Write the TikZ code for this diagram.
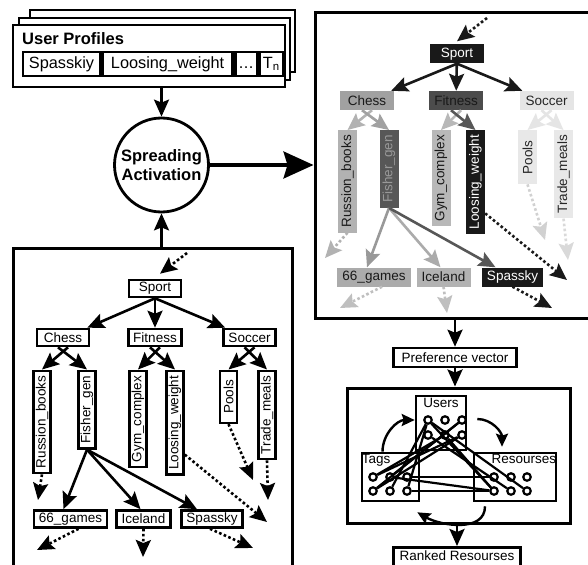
\documentclass[tikz,border=0pt]{standalone}
\usepackage{fontspec}
\setmainfont{Liberation Sans}
\usetikzlibrary{positioning}
\usetikzlibrary{arrows.meta}
\usetikzlibrary{calc}
\newcommand{\nodefont}{\fontsize{13.5}{15}\selectfont}
\tikzset{>={Stealth[length=17pt,width=15pt,inset=3pt]}}
\tikzset{ed/.style={->,line width=2.6pt}}
\tikzset{dt/.style={->,line width=2.6pt,dash pattern=on 2.6pt off 2.4pt}}
\tikzset{ca/.style={line width=2.4pt,-{Stealth[length=13pt,width=12pt,inset=2pt]}}}
\tikzset{lt/.style={draw,line width=2.6pt,fill=white,font=\nodefont,inner xsep=5pt,inner ysep=1pt,minimum width=52pt,minimum height=17pt}}
\tikzset{rt/.style={font=\nodefont,inner xsep=5pt,inner ysep=1pt,minimum width=54pt,minimum height=19pt}}
\tikzset{vt/.style={rotate=90,anchor=east}}
\tikzset{box/.style={draw,line width=3pt,fill=white}}
\tikzset{gbx/.style={draw,line width=2.6pt,fill=white}}
\tikzset{cell/.style={draw,line width=2.6pt,font=\fontsize{16.3}{18}\selectfont,text height=12pt,text depth=3.5pt,minimum height=24pt,inner sep=1pt}}
\tikzset{dot/.style={draw,circle,line width=2.2pt,fill=white,inner sep=0pt,minimum size=7.5pt}}

\begin{document}
\begin{tikzpicture}[x=1pt,y=-1pt]
\useasboundingbox (0,0) rectangle (588,564);

\draw[box,line width=2.6pt] (30,10) rectangle (295,72);
\draw[box,line width=2.6pt] (19,18) rectangle (290,80);
\node[box,line width=2.6pt,minimum width=272pt,minimum height=62pt] (up) at (149,56) {};
\node[anchor=west,inner sep=2pt,font=\bfseries\fontsize{16.5}{18}\selectfont] (upt) at (20,39) {User Profiles};
\node[cell,minimum width=77pt] (c1) at (61.5,64) {Spasskiy};
\node[cell,minimum width=130pt,right=0pt of c1] (c2) {Loosing\_weight};
\node[cell,minimum width=22pt,right=0pt of c2] (c3) {.\kern0.5pt.\kern0.5pt.};
\node[cell,minimum width=23pt,right=0pt of c3] (c4) {T\textsubscript{n}};

\node[draw,circle,line width=2.8pt,minimum size=94pt,inner sep=0pt,align=center,font=\bfseries\fontsize{16.5}{19}\selectfont] (sa) at (161.5,165) {Spreading\\Activation};
\draw[ed] (sa |- up.south) -- (sa.north);

\node[box,minimum width=279pt,minimum height=332pt] (lbox) at (152.5,414) {};
\draw[ed] (sa |- lbox.north) -- (sa.south);

\node[lt] (sp) at (155,288.5) {Sport};
\node[lt] (ch) at (63,337.5) {Chess};
\node[lt] (fi) at (155,337.5) {Fitness};
\node[lt] (so) at (249.5,337.5) {Soccer};
\node[lt,vt] (rb) at (42,369.5) {Russion\_books};
\node[lt,vt] (fg) at (87,369.5) {Fisher\_gen};
\node[lt,vt] (gc) at (138,369.5) {Gym\_complex};
\node[lt,vt] (lw) at (175,369.5) {Loosing\_weight};
\node[lt,vt] (po) at (228.5,369.5) {Pools};
\node[lt,vt] (tm) at (267,369.5) {Trade\_meals};
\node[lt] (ga) at (70.5,519) {66\_games};
\node[lt] (ic) at (143.5,519) {Iceland};
\node[lt] (ss) at (212,519) {Spassky};

\coordinate (lin) at (187,253);
\draw[dt] (lin) -- ([shift={(5pt,5pt)}]sp.north);
\draw[ed] (sp.south) -- ([xshift=-3pt]ch.north east);
\draw[ed] (sp) -- (fi);
\draw[ed] (sp.south) -- ([xshift=3pt]so.north west);
\draw[ed] ([xshift=5pt]ch.south) -- (rb.east);
\draw[ed] ([xshift=-5pt]ch.south) -- (fg.east);
\draw[ed] ([xshift=5pt]fi.south) -- (gc.east);
\draw[ed] ([xshift=-5pt]fi.south) -- (lw.east);
\draw[ed] ([xshift=5pt]so.south) -- (po.east);
\draw[ed] ([xshift=-5pt]so.south) -- (tm.east);
\draw[ed] (fg.west) -- ([xshift=-7pt]ga.north);
\draw[ed] (fg.west) -- ([xshift=-3pt]ic.north);
\draw[ed] (fg.west) -- ([xshift=-15pt]ss.north);
\coordinate (l1) at (38,500);
\coordinate (l2) at (267,522);
\coordinate (l3) at (253,480);
\coordinate (l4) at (268,500);
\coordinate (l5) at (37,550);
\coordinate (l6) at (143,557);
\coordinate (l7) at (253,548);
\draw[dt] (rb.west) -- (l1);
\draw[dt] ($(lw.south west)!0.2!(lw.south east)$) -- (l2);
\draw[dt] (po.west) -- (l3);
\draw[dt] (tm.west) -- (l4);
\draw[dt] ([xshift=8pt]ga.south) -- (l5);
\draw[dt] (ic.south) -- (l6);
\draw[dt] ([xshift=-2pt]ss.south) -- (l7);

\node[box,minimum width=285pt,minimum height=305pt] (rbox) at (457.5,165.5) {};
\draw[line width=3pt,-{Stealth[length=30pt,width=27pt,inset=4pt]}] (sa.east) -- (sa.east -| rbox.west);

\node[rt,fill=black!90,text=white] (sp') at (457,54) {Sport};
\node[rt,fill=black!37,text=black!90] (ch') at (367,100.5) {Chess};
\node[rt,fill=black!70,text=black!90] (fi') at (456,100.5) {Fitness};
\node[rt,fill=black!10,text=black!85] (so') at (546.5,100.5) {Soccer};
\node[rt,vt,fill=black!30,text=black!90] (rb') at (347.5,130) {Russion\_books};
\node[rt,vt,fill=black!66,text=black!40] (fg') at (389,130) {Fisher\_gen};
\node[rt,vt,fill=black!28,text=black!90] (gc') at (441,130) {Gym\_complex};
\node[rt,vt,fill=black!90,text=white] (lw') at (475.5,130) {Loosing\_weight};
\node[rt,vt,fill=black!9,text=black!85] (po') at (527.5,130) {Pools};
\node[rt,vt,fill=black!9,text=black!85] (tm') at (563.5,130) {Trade\_meals};
\node[rt,fill=black!33,text=black!90] (ga') at (374,277) {66\_games};
\node[rt,fill=black!30,text=black!90] (ic') at (443.5,277) {Iceland};
\node[rt,fill=black!90,text=white] (ss') at (512.5,277) {Spassky};

\coordinate (rin) at (487,18);
\draw[dt,black!90] (rin) -- ([yshift=3pt]sp'.north);
\draw[ed,black!90] (sp'.south) -- ([xshift=-3pt]ch'.north east);
\draw[ed,black!90] (sp') -- (fi');
\draw[ed,black!90] (sp'.south) -- ([xshift=3pt]so'.north west);
\draw[ed,black!30] ([xshift=5pt]ch'.south) -- (rb'.east);
\draw[ed,black!37] ([xshift=-5pt]ch'.south) -- (fg'.east);
\draw[ed,black!28] ([xshift=5pt]fi'.south) -- (gc'.east);
\draw[ed,black!66] ([xshift=-5pt]fi'.south) -- (lw'.east);
\draw[ed,black!10] ([xshift=5pt]so'.south) -- (po'.east);
\draw[ed,black!10] ([xshift=-5pt]so'.south) -- (tm'.east);
\draw[ed,black!40] (fg'.west) -- ([xshift=-7pt]ga'.north);
\draw[ed,black!33] (fg'.west) -- ([xshift=-3pt]ic'.north);
\draw[ed,black!66] (fg'.west) -- ([xshift=-17pt]ss'.north);
\coordinate (r1) at (325,258);
\coordinate (r2) at (567,280);
\coordinate (r3) at (545,240);
\coordinate (r4) at (568,260);
\coordinate (r5) at (340,308);
\coordinate (r6) at (447,313);
\coordinate (r7) at (552,308);
\draw[dt,black!30] (rb'.west) -- (r1);
\draw[dt,black!90] ($(lw'.south west)!0.2!(lw'.south east)$) -- (r2);
\draw[dt,black!18] (po'.west) -- (r3);
\draw[dt,black!15] (tm'.west) -- (r4);
\draw[dt,black!25] ([xshift=8pt]ga'.south) -- (r5);
\draw[dt,black!25] (ic'.south) -- (r6);
\draw[dt,black!90] (ss'.south) -- (r7);

\node[draw,line width=2.6pt,font=\nodefont,inner xsep=8pt,minimum height=19pt] (pv) at (455,357.5) {Preference vector};
\draw[ed] (pv |- rbox.south) -- (pv.north);
\node[box,minimum width=223pt,minimum height=135pt] (gb) at (458.5,455.5) {};
\draw[ed] (pv.south) -- (pv |- gb.north);
\node[draw,line width=2.6pt,font=\nodefont,inner xsep=6pt,text depth=14pt,anchor=north] (rr) at (457,546) {Ranked Resourses};
\draw[ed] (rr |- gb.south) -- (rr.north);

\node[gbx,minimum width=50pt,minimum height=54pt] (us) at (441,423) {};
\node[gbx,minimum width=57pt,minimum height=48pt] (tg) at (390.5,477) {};
\node[gbx,minimum width=82pt,minimum height=48pt] (rs) at (515,477) {};
\node[font=\nodefont,inner sep=1pt,below=2.5pt of us.north] (usl) {Users};
\node[font=\nodefont,inner sep=1pt,anchor=north west] (tgl) at ([yshift=-1pt]tg.north west) {Tags};
\node[font=\nodefont,inner sep=1pt,anchor=north east] (rsl) at ([yshift=-1pt]rs.north east) {Resourses};
\foreach \i/\x in {1/428,2/445,3/462} {
  \node[dot] (u1\i) at (\x,420) {};
  \node[dot] (u2\i) at (\x,435) {};
}
\foreach \i/\x in {1/373,2/390,3/407} {
  \node[dot] (t1\i) at (\x,477) {};
  \node[dot] (t2\i) at (\x,491) {};
}
\foreach \i/\x in {1/494,2/511,3/527} {
  \node[dot] (r1\i) at (\x,477) {};
  \node[dot] (r2\i) at (\x,491) {};
}
\foreach \a/\b in {u11/t22,u11/t23,u11/r21,u11/r23,u13/t21,u13/t12,u22/t11,u22/r21,u23/t11,u23/t21,u21/r22,t13/r11,t12/r21,t23/r21}
  \draw[line width=2.2pt] (\a) -- (\b);
\draw[ca] ([xshift=-8pt]tg.north) to[out=90,in=180] ([yshift=3pt]us.west);
\draw[ca] ([shift={(10pt,4pt)}]us.east) to[out=0,in=90] ([shift={(-13pt,5pt)}]rs.north);
\draw[ca] ([shift={(-30pt,-4pt)}]rs.south) to[out=-90,in=-30] ([shift={(-3pt,-10pt)}]tg.south east);
\end{tikzpicture}
\end{document}
